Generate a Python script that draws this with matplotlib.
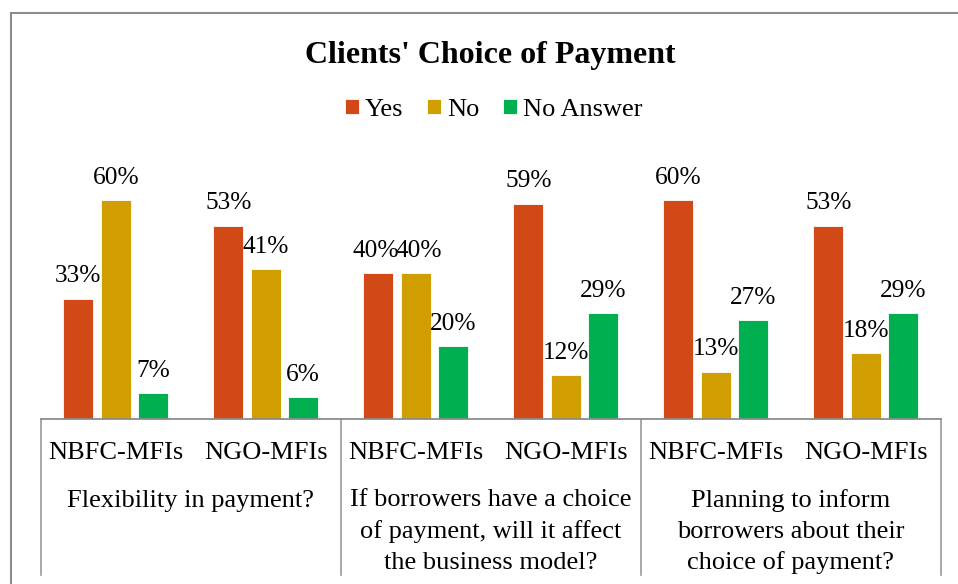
import matplotlib.pyplot as plt
from matplotlib.patches import Rectangle
from matplotlib.transforms import blended_transform_factory
import numpy as np

plt.rcParams['font.family'] = ['Liberation Serif', 'DejaVu Serif']

####### chart data #######
categories = ["NBFC-MFIs", "NGO-MFIs", "NBFC-MFIs", "NGO-MFIs", "NBFC-MFIs", "NGO-MFIs"]
groups = ["Flexibility in payment?",
          "If borrowers have a choice\nof payment, will it affect\nthe business model?",
          "Planning to inform\nborrowers about their\nchoice of payment?"]
yes_vals = [33, 53, 40, 59, 60, 53]
no_vals = [60, 41, 40, 12, 13, 18]
noans_vals = [7, 6, 20, 29, 27, 29]
series_names = ["Yes", "No", "No Answer"]
series_colors = ["#D34817", "#D09E00", "#00B050"]

W, H = 958, 584
fig = plt.figure(figsize=(W / 100, H / 100), dpi=100)

# axes placed in pixel terms of the reference
ax_left, ax_right, ax_base, ax_top = 40.7, 941.0, 419.0, 163.5
ax = fig.add_axes([ax_left / W, 1 - ax_base / H, (ax_right - ax_left) / W, (ax_base - ax_top) / H])
ax_h_px = ax_base - ax_top

x = np.arange(len(categories))
bar_w = 0.2
offsets = [-0.25, 0.0, 0.25]
all_vals = [yes_vals, no_vals, noans_vals]

for si, (vals, off, col, name) in enumerate(zip(all_vals, offsets, series_colors, series_names)):
    bars = ax.bar(x + off, np.array(vals) / 100, width=bar_w, color=col,
                  edgecolor='white', linewidth=0.6, label=name)
    for ci, (b, v) in enumerate(zip(bars, vals)):
        # push apart labels of neighbouring bars with the same height
        dx = 0
        if si == 0 and yes_vals[ci] == no_vals[ci]:
            dx = -1.8
        elif si == 1 and yes_vals[ci] == no_vals[ci]:
            dx = 1.8
        ax.annotate(f"{v}%", (b.get_x() + b.get_width() / 2, b.get_height()),
                    xytext=(dx, 11.8), textcoords='offset points',
                    ha='center', va='baseline', fontsize=18.3)

ax.set_xlim(-0.5, len(categories) - 0.5)
ax.set_ylim(0, 0.7)
ax.set_yticks([])
ax.set_xticks([])
for s in ['top', 'right', 'left']:
    ax.spines[s].set_visible(False)
ax.spines['bottom'].set_color('#8c8c8c')
ax.spines['bottom'].set_linewidth(1.3)

trans = blended_transform_factory(ax.transData, ax.transAxes)

# category labels
for i, c in enumerate(categories):
    ax.text(i, (ax_base - 459) / ax_h_px, c, transform=trans,
            ha='center', va='baseline', fontsize=19)

# group labels, one line at a time
for g, grp in enumerate(groups):
    xc = 2 * g + 0.5
    for k, line in enumerate(grp.split("\n")):
        yb = 506.5 + k * 31.2
        ax.text(xc, (ax_base - yb) / ax_h_px, line, transform=trans,
                ha='center', va='baseline', fontsize=19)

# group separators
for sx in [-0.5, 1.5, 3.5, 5.5]:
    ax.plot([sx, sx], [0, (ax_base - 575) / ax_h_px], transform=trans,
            color='#9a9a9a', linewidth=1.2, clip_on=False)

# title and legend
fig.text(490 / W, 1 - 63.5 / H, "Clients' Choice of Payment", ha='center',
         va='baseline', fontsize=23, fontweight='bold')
fig.legend(loc='center', bbox_to_anchor=(494 / W, 1 - 110 / H), ncol=3, frameon=False,
           fontsize=19, handlelength=0.5, handleheight=0.5, handletextpad=0.25,
           columnspacing=0.9, borderaxespad=0)

# outer chart border (runs off the right and bottom edges)
fig.patches.append(Rectangle((11 / W, -0.2), 1.2, 1.2 - 13 / H, transform=fig.transFigure,
                             fill=False, edgecolor='#8c8c8c', linewidth=1.5))

fig.savefig("out.png", dpi=100)
